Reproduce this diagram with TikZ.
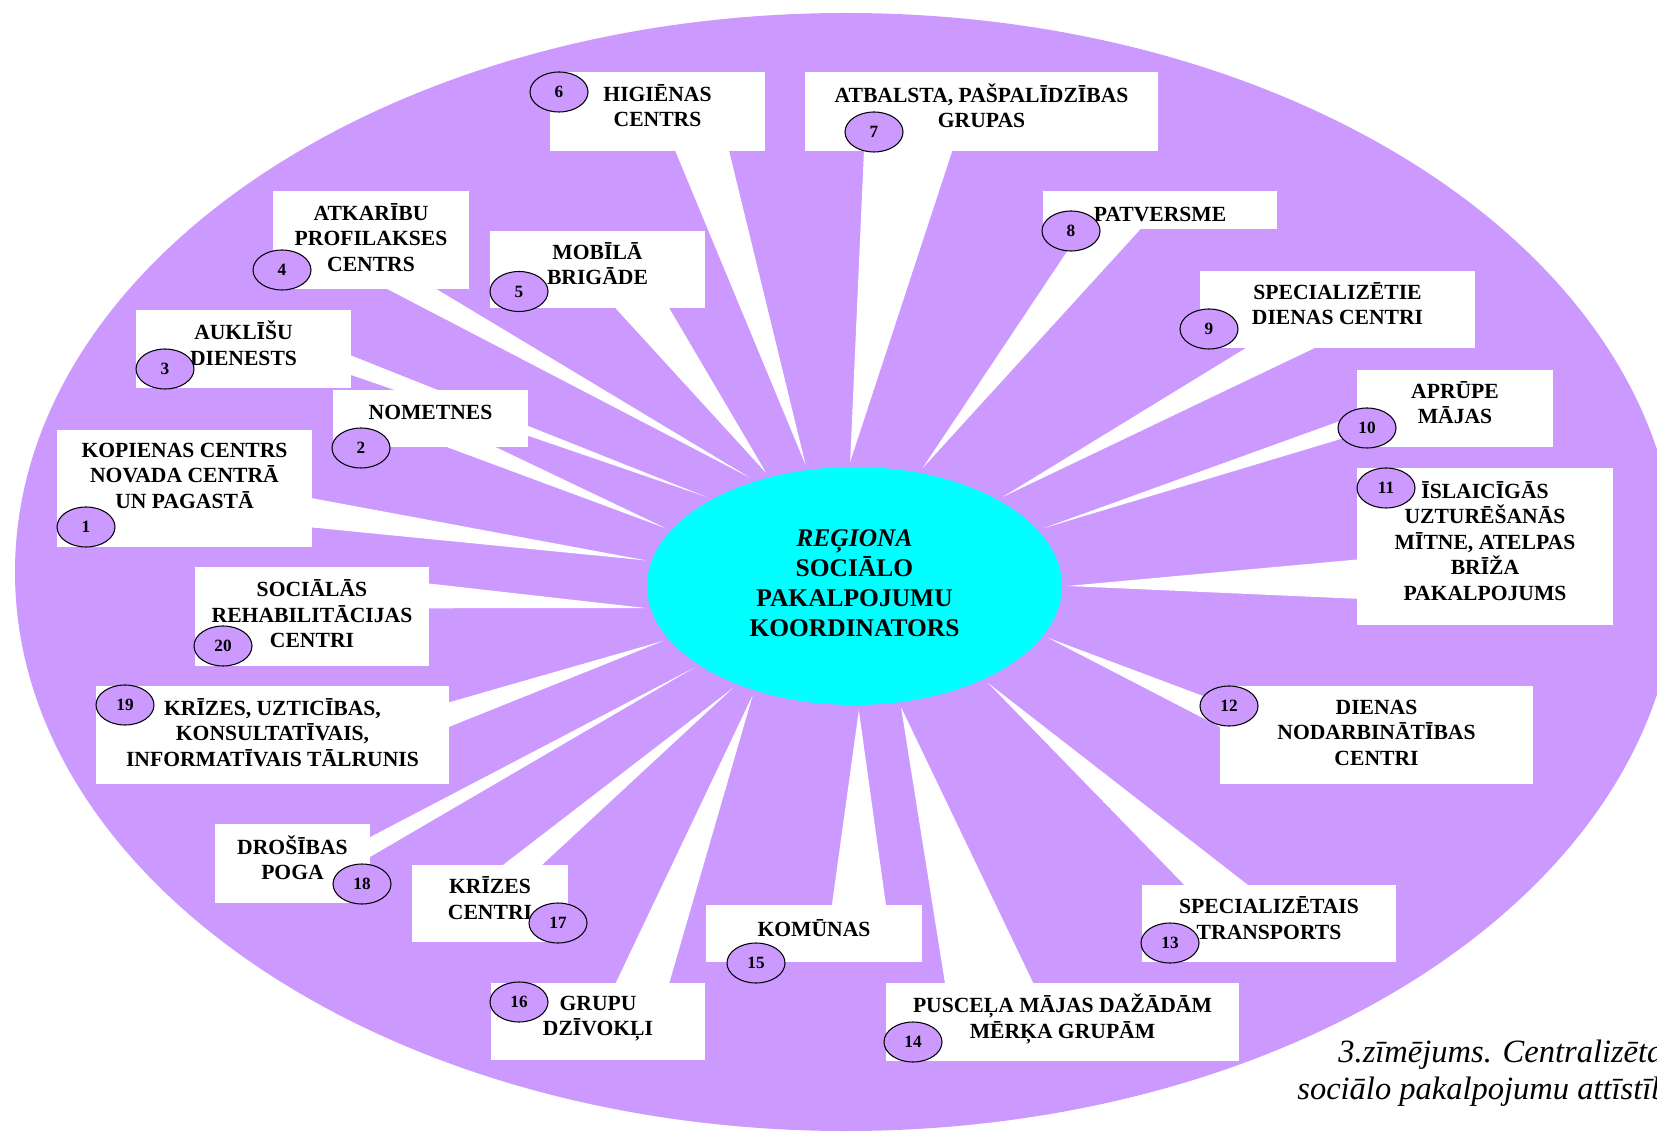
\documentclass[tikz,border=0pt]{standalone}
\usepackage{fontspec}
\setmainfont{Liberation Serif}
\usetikzlibrary{positioning, calc, shapes.geometric}
\pgfdeclarelayer{back}
\pgfdeclarelayer{rays}
\pgfsetlayers{back,rays,main}
\definecolor{lilac}{RGB}{204,153,255}
\definecolor{aqua}{RGB}{0,255,255}
% raises the text of a box a little
\newcommand{\lift}[1][8pt]{\\[-#1]\mbox{}}

\begin{document}
\begin{tikzpicture}
% Define styles
\tikzstyle{box} = [rectangle, fill=white, inner sep=2pt, outer sep=0pt, align=center, font=\fontsize{12.3}{14.5}\selectfont\bfseries]
\tikzstyle{num} = [ellipse, draw=black, line width=0.6pt, fill=lilac, minimum width=1.16cm, minimum height=0.8cm, inner sep=0pt, font=\fontsize{9.8}{11}\selectfont\bfseries]
\tikzstyle{ray} = [fill=white]
\tikzstyle{caption} = [anchor=base west, inner sep=0pt, font=\fontsize{18.5}{20}\selectfont\itshape]

\useasboundingbox (0,0) rectangle (33.14,22.68);

% Background oval
\begin{pgfonlayer}{back}
\fill[lilac] (16.92,11.24) ellipse [x radius=16.62cm, y radius=11.18cm];
\end{pgfonlayer}

% Coordinator in the middle
\node[ellipse, fill=aqua, minimum width=8.3cm, minimum height=4.76cm, outer sep=3pt, align=center, font=\fontsize{14.5}{17}\selectfont\bfseries] (hub) at (17.09,10.96) {\textit{REĢIONA}\\SOCIĀLO\\PAKALPOJUMU\\KOORDINATORS\\[-14pt]\mbox{}};

% Services
\node[box, minimum width=5.10cm, minimum height=2.34cm] (b1) at (3.69,12.91) {KOPIENAS CENTRS\\NOVADA CENTRĀ\\UN PAGASTĀ\\ \mbox{}};
\node[box, minimum width=3.90cm, minimum height=1.14cm] (b2) at (8.61,14.31) {NOMETNES\lift};
\node[box, minimum width=4.30cm, minimum height=1.56cm] (b3) at (4.87,15.70) {AUKLĪŠU\\DIENESTS\lift};
\node[box, minimum width=3.92cm, minimum height=1.96cm] (b4) at (7.42,17.88) {ATKARĪBU\\PROFILAKSES\\CENTRS\lift[11.5pt]};
\node[box, minimum width=4.30cm, minimum height=1.54cm] (b5) at (11.95,17.29) {MOBĪLĀ\\BRIGĀDE\lift};
\node[box, minimum width=4.30cm, minimum height=1.58cm] (b6) at (13.15,20.45) {HIGIĒNAS\\CENTRS\lift};
\node[box, minimum width=7.06cm, minimum height=1.58cm] (b7) at (19.63,20.45) {ATBALSTA, PAŠPALĪDZĪBAS\\GRUPAS\lift};
\node[box, minimum width=4.68cm, minimum height=0.76cm] (b8) at (23.20,18.48) {\raisebox{-2.4pt}[\height][\depth]{PATVERSME}};
\node[box, minimum width=5.50cm, minimum height=1.54cm] (b9) at (26.75,16.49) {SPECIALIZĒTIE\\DIENAS CENTRI\lift};
\node[box, minimum width=3.92cm, minimum height=1.54cm] (b10) at (29.10,14.51) {APRŪPE\\MĀJAS\lift};
\node[box, minimum width=5.12cm, minimum height=3.14cm] (b11) at (29.70,11.75) {ĪSLAICĪGĀS\\UZTURĒŠANĀS\\MĪTNE, ATELPAS\\BRĪŽA\\PAKALPOJUMS\lift};
\node[box, minimum width=6.26cm, minimum height=1.96cm] (b12) at (27.53,7.98) {DIENAS\\NODARBINĀTĪBAS\\CENTRI\lift[11.5pt]};
\node[box, minimum width=5.08cm, minimum height=1.54cm] (b13) at (25.38,4.21) {SPECIALIZĒTAIS\\TRANSPORTS\lift};
\node[box, minimum width=7.06cm, minimum height=1.56cm] (b14) at (21.25,2.24) {PUSCEĻA MĀJAS DAŽĀDĀM\\MĒRĶA GRUPĀM\lift};
\node[box, minimum width=4.32cm, minimum height=1.14cm] (b15) at (16.28,4.01) {KOMŪNAS\lift};
\node[box, minimum width=4.28cm, minimum height=1.54cm] (b16) at (11.96,2.25) {GRUPU\\DZĪVOKĻI\lift};
\node[box, minimum width=3.12cm, minimum height=1.54cm] (b17) at (9.80,4.61) {KRĪZES\\CENTRI\lift};
\node[box, minimum width=3.10cm, minimum height=1.58cm] (b18) at (5.85,5.41) {DROŠĪBAS\\POGA\lift};
\node[box, minimum width=7.06cm, minimum height=1.96cm] (b19) at (5.45,7.98) {KRĪZES, UZTICĪBAS,\\KONSULTATĪVAIS,\\INFORMATĪVAIS TĀLRUNIS\lift[11.5pt]};
\node[box, minimum width=4.68cm, minimum height=1.98cm] (b20) at (6.24,10.35) {SOCIĀLĀS\\REHABILITĀCIJAS\\CENTRI\lift[11.5pt]};

% Number tags
\foreach \n/\x/\y in {1/1.72/12.14, 2/7.22/13.72, 3/3.30/15.30, 4/5.64/17.28, 5/10.38/16.85,
  6/11.18/20.84, 7/17.48/20.04, 8/21.42/18.06, 9/24.18/16.10, 10/27.34/14.12,
  11/27.72/12.92, 12/24.58/8.56, 13/23.40/3.82, 14/18.26/1.84, 15/15.12/3.42,
  16/10.38/2.64, 17/11.16/4.22, 18/7.24/5.00, 19/2.50/8.58, 20/4.46/9.76}
  \node[num] (n\n) at (\x,\y) {\n};

% Wedges from each service to the coordinator
\begin{pgfonlayer}{rays}
\foreach \b/\s/\e/\f/\g/\t in {b1/north east/south east/0.583/0.833/173,
  b2/south west/south east/0.583/0.833/163,
  b3/north east/south east/0.583/0.833/149,
  b4/south west/south east/0.583/0.833/134,
  b5/south west/south east/0.583/0.833/128,
  b6/south west/south east/0.583/0.833/112,
  b7/south west/south east/0.167/0.417/92,
  b8/south west/south east/0.167/0.417/60,
  b9/south west/south east/0.167/0.417/31,
  b10/north west/south west/0.583/0.833/17,
  b11/north west/south west/0.583/0.833/0,
  b12/north west/south west/0.167/0.417/345,
  b13/north west/north east/0.167/0.417/324,
  b14/north west/north east/0.167/0.417/291,
  b15/north west/north east/0.583/0.833/272,
  b16/north west/north east/0.583/0.833/227,
  b17/north west/north east/0.583/0.833/220,
  b18/north east/south east/0.167/0.417/207,
  b19/north east/south east/0.167/0.417/196,
  b20/north east/south east/0.167/0.417/186}
  \fill[ray] ($(\b.\s)!\f!(\b.\e)$) -- (hub.\t) -- ($(\b.\s)!\g!(\b.\e)$) -- cycle;
\end{pgfonlayer}

% Caption (cut by the page edge)
\node[caption] (cap1) at (26.76,1.44) {3.zīmējums. Centralizēta};
\node[caption] (cap2) at (25.94,0.70) {sociālo pakalpojumu attīstīb};

\end{tikzpicture}
\end{document}
